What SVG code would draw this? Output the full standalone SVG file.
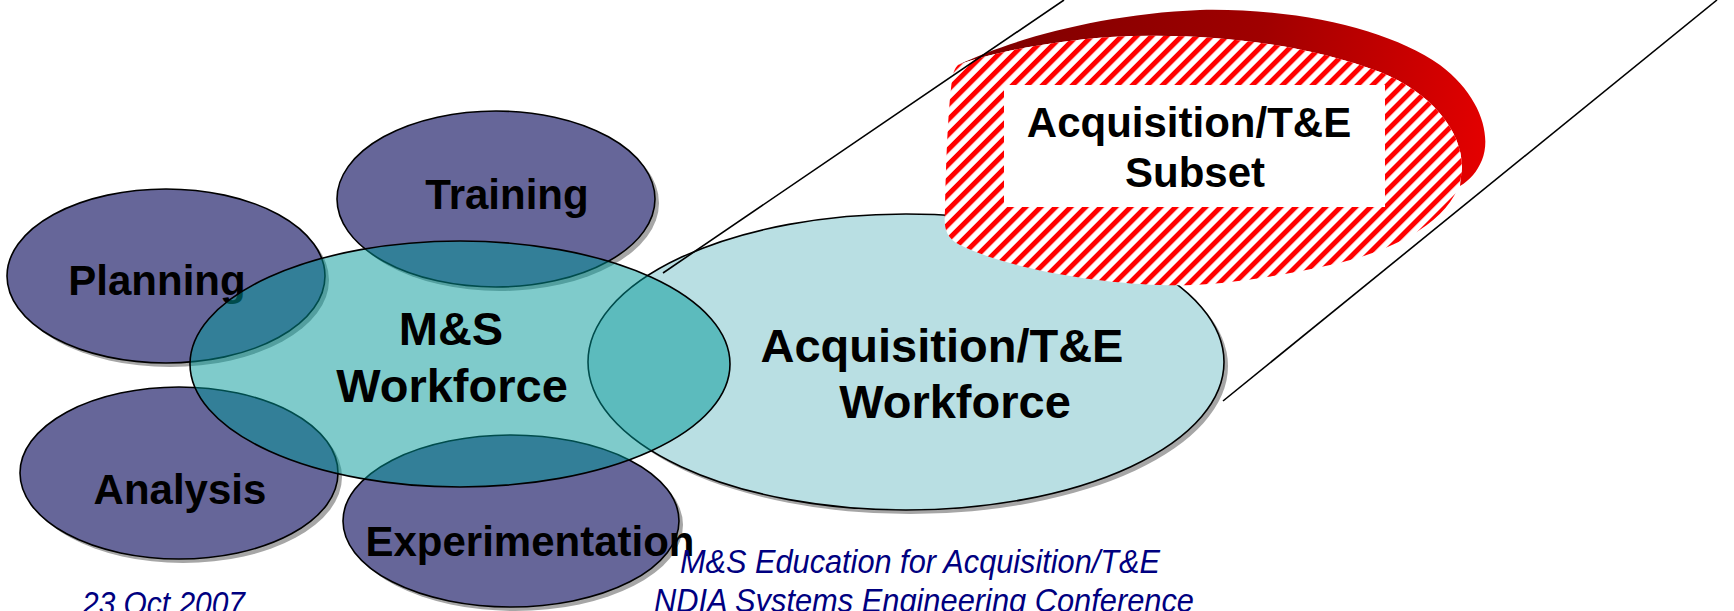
<svg xmlns="http://www.w3.org/2000/svg" width="1734" height="611" viewBox="0 0 1734 611">
<style>
.sh{fill:#a6a6a6;stroke:none}
.pu{fill:#666699;stroke:#000;stroke-width:1.6}
.lbl{font-family:"Liberation Sans",Arial,sans-serif;font-weight:bold;fill:#000;text-anchor:middle}
.s42{font-size:42px}
.s47{font-size:47px}
.foot{font-family:"Liberation Sans Narrow","Liberation Sans",Arial,sans-serif;font-style:italic;font-size:33px;fill:#000080}
.ln{stroke:#000;stroke-width:1.6;fill:none}
</style>
<defs>
<pattern id="hatch" patternUnits="userSpaceOnUse" width="10.6" height="10.6" patternTransform="rotate(45)">
<rect x="0" y="0" width="10.6" height="10.6" fill="#fff"/>
<rect x="0" y="0" width="5" height="10.6" fill="#ff0000"/>
</pattern>
<linearGradient id="band" gradientUnits="userSpaceOnUse" x1="950" y1="30" x2="1490" y2="160">
<stop offset="0" stop-color="#7a0000"/>
<stop offset="0.55" stop-color="#a00000"/>
<stop offset="1" stop-color="#e60000"/>
</linearGradient>
</defs>
<rect width="1734" height="611" fill="#fff"/>

<g id="planning">
<ellipse class="sh" cx="170" cy="280" rx="159" ry="87"/>
<ellipse class="pu" cx="166" cy="276" rx="159" ry="87"/>
<text class="lbl s42" x="157" y="295">Planning</text>
</g>
<g id="training">
<ellipse class="sh" cx="500" cy="203" rx="159" ry="88"/>
<ellipse class="pu" cx="496" cy="199" rx="159" ry="88"/>
<text class="lbl s42" x="507" y="209">Training</text>
</g>
<g id="analysis">
<ellipse class="sh" cx="183" cy="477" rx="159" ry="86"/>
<ellipse class="pu" cx="179" cy="473" rx="159" ry="86"/>
<text class="lbl s42" x="180" y="504">Analysis</text>
</g>
<g id="experimentation">
<ellipse class="sh" cx="515" cy="525" rx="168" ry="86"/>
<ellipse class="pu" cx="511" cy="521" rx="168" ry="86"/>
<text class="lbl s42" x="530" y="556">Experimentation</text>
</g>

<g id="acq-workforce">
<ellipse class="sh" cx="910" cy="366" rx="318" ry="148"/>
<ellipse cx="906" cy="362" rx="318" ry="148" fill="#b9dfe3" stroke="#000" stroke-width="1.6"/>
<text class="lbl s47" x="942" y="362">Acquisition/T&amp;E</text>
<text class="lbl s47" x="955" y="418">Workforce</text>
</g>

<g id="ms-workforce">
<ellipse cx="460" cy="364" rx="270" ry="123" fill="#009797" fill-opacity="0.5" stroke="#000" stroke-width="1.6"/>
<text class="lbl s47" x="451" y="345">M&amp;S</text>
<text class="lbl s47" x="452" y="402">Workforce</text>
</g>

<g id="acq-subset">
<path d="M958,65 C1010,40 1100,14 1200,10 C1300,8 1390,30 1440,65 C1480,95 1492,135 1482,160 C1477,172 1470,180 1460,186 L1462,167 C1462,130 1430,92 1380,72 C1300,42 1200,32 1110,37 C1040,42 985,55 958,65 Z" fill="url(#band)"/>
<path d="M958,65 C985,55 1040,42 1110,37 C1200,32 1300,42 1380,72 C1430,92 1462,130 1462,167 C1462,215 1400,250 1330,265 C1270,278 1210,287 1160,285 C1080,282 1000,265 960,245 C944,237 944,225 945,210 C946,160 948,110 952,80 C953,72 955,68 958,65 Z" fill="url(#hatch)"/>
<rect x="1004" y="85" width="381" height="122" fill="#fff"/>
<text class="lbl s42" x="1189" y="137">Acquisition/T&amp;E</text>
<text class="lbl s42" x="1195" y="187">Subset</text>
</g>

<g id="connectors">
<line class="ln" x1="663" y1="273" x2="1064" y2="0"/>
<line class="ln" x1="1223" y1="401" x2="1717" y2="0"/>
</g>

<g id="footer">
<text class="foot" x="680" y="573" textLength="480" lengthAdjust="spacingAndGlyphs">M&amp;S Education for Acquisition/T&amp;E</text>
<text class="foot" x="654" y="612" textLength="540" lengthAdjust="spacingAndGlyphs">NDIA Systems Engineering Conference</text>
<text class="foot" x="82" y="615" textLength="163" lengthAdjust="spacingAndGlyphs">23 Oct 2007</text>
</g>
</svg>
